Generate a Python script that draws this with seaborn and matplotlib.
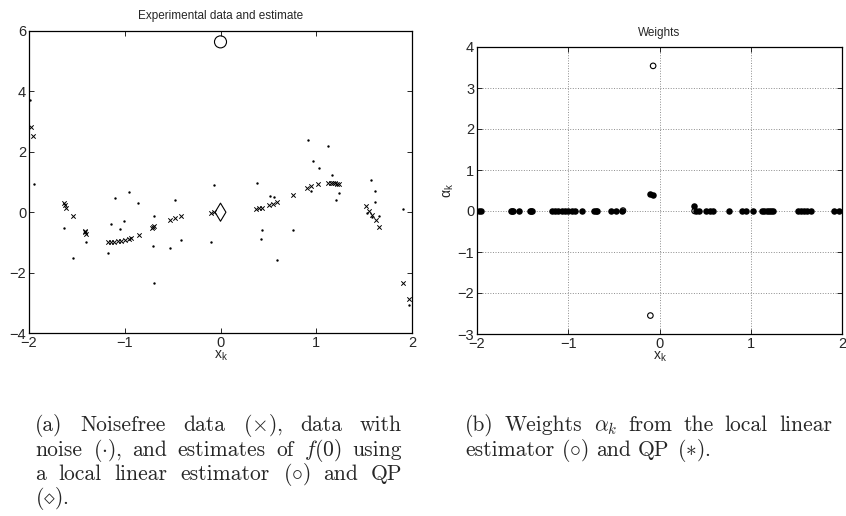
import matplotlib
matplotlib.use("Agg")
import numpy as np
import pandas as pd
import seaborn as sns
import matplotlib.pyplot as plt

# noisefree data (x)
nf_x = [-1.98, -1.96, -1.63, -1.62, -1.61, -1.54, -1.42, -1.41, -1.40,
        -1.18, -1.14, -1.11, -1.07, -1.04, -1.00, -0.96, -0.93, -0.85,
        -0.72, -0.70, -0.69, -0.53, -0.48, -0.41, -0.10, -0.07,
        0.375, 0.40, 0.43, 0.51, 0.55, 0.59, 0.76, 0.90, 0.95, 1.02,
        1.12, 1.15, 1.18, 1.20, 1.22, 1.24, 1.52, 1.55, 1.58, 1.62, 1.66,
        1.91, 1.97]
nf_y = [2.83, 2.53, 0.31, 0.24, 0.14, -0.13, -0.61, -0.67, -0.72,
        -0.99, -0.99, -0.98, -0.96, -0.94, -0.92, -0.90, -0.86, -0.74,
        -0.52, -0.48, -0.45, -0.26, -0.20, -0.13, -0.01, 0.0,
        0.11, 0.13, 0.13, 0.24, 0.27, 0.33, 0.57, 0.80, 0.88, 0.93,
        0.97, 0.97, 0.96, 0.96, 0.95, 0.95, 0.19, 0.03, -0.09, -0.27, -0.49,
        -2.36, -2.86]

# data with noise (.)
noisy_x = [-1.99, -1.95, -1.635, -1.54, -1.40, -1.18, -1.14, -1.10, -1.05,
           -1.01, -0.96, -0.86, -0.71, -0.69, -0.69, -0.53, -0.47, -0.41,
           -0.10, -0.07, 0.38, 0.43, 0.42, 0.52, 0.555, 0.59, 0.76, 0.91,
           0.95, 0.97, 1.03, 1.12, 1.16, 1.21, 1.24, 1.57, 1.61, 1.61, 1.53,
           1.66, 1.58, 1.91, 1.97]
noisy_y = [3.70, 0.93, -0.53, -1.53, -1.00, -1.36, -0.39, 0.48, -0.56,
           -0.28, 0.67, 0.31, -1.11, -0.13, -2.33, -1.19, 0.42, -0.91,
           -0.98, 0.91, 0.96, -0.60, -0.88, 0.52, 0.49, -1.57, -0.60, 2.40,
           0.69, 1.68, 1.46, 2.20, 1.23, 0.41, 0.63, 1.07, 0.69, 0.35, -0.03,
           -0.13, -0.15, 0.09, -3.08]

# estimates of f(0)
est_x = [0.0]
ll_est = [5.64]
qp_est = [0.0]

# weights
qp_w = [0.0] * len(nf_x)
qp_w[nf_x.index(-0.10)] = 0.41
qp_w[nf_x.index(-0.07)] = 0.40
qp_w[nf_x.index(0.375)] = 0.12
ll_x = [-0.40, -0.10, -0.07, 0.385]
ll_w = [0.01, -2.55, 3.54, 0.0]

W, H = 846, 516
sns.set_style("ticks")
plt.rcParams["font.family"] = ["Liberation Sans", "DejaVu Sans"]

fig = plt.figure(figsize=(W / 100, H / 100), dpi=100)
ax1 = fig.add_axes([29 / W, 1 - 333 / H, 383 / W, 302 / H])
ax2 = fig.add_axes([477 / W, 1 - 334 / H, 365 / W, 287 / H])

# (a) data and estimates
sns.scatterplot(x=noisy_x, y=noisy_y, marker="o", s=3, color="k", linewidth=0, ax=ax1)
sns.scatterplot(x=nf_x, y=nf_y, marker="x", s=10, color="k", linewidth=0.7, ax=ax1)
sns.scatterplot(x=est_x, y=ll_est, marker="o", s=75, facecolor="none",
                edgecolor="k", linewidth=0.8, ax=ax1)
sns.scatterplot(x=est_x, y=qp_est, marker="d", s=85, facecolor="none",
                edgecolor="k", linewidth=0.8, ax=ax1)
ax1.set_xlim(-2, 2)
ax1.set_ylim(-4, 6)
ax1.set_xticks([-2, -1, 0, 1, 2])
ax1.set_yticks([-4, -2, 0, 2, 4, 6])
ax1.set_title("Experimental data and estimate", fontsize=8.5, pad=9)

# (b) weights
ax2.grid(True, linestyle=":", color="0.55", linewidth=0.7)
ax2.set_axisbelow(True)
sns.scatterplot(x=ll_x, y=ll_w, marker="o", s=16, facecolor="none",
                edgecolor="k", linewidth=0.8, ax=ax2)
sns.scatterplot(x=nf_x, y=qp_w, marker="o", s=22, color="k", linewidth=0, ax=ax2)
ax2.set_xlim(-2, 2)
ax2.set_ylim(-3, 4)
ax2.set_xticks([-2, -1, 0, 1, 2])
ax2.set_yticks(range(-3, 5))
ax2.set_title("Weights", fontsize=8.5, pad=8)
ax2.set_ylabel(r"$\mathregular{α_k}$", fontsize=10, labelpad=1)

for ax in (ax1, ax2):
    ax.set_xlabel(r"$\mathregular{x_k}$", fontsize=10, labelpad=-1)
    ax.tick_params(direction="in", top=True, right=True, length=3.5,
                   width=0.7, labelsize=10.5, pad=2)
    for sp in ax.spines.values():
        sp.set_linewidth(0.9)
        sp.set_color("k")

# captions, justified like the LaTeX source
cap_a = [r"(a) Noisefree data ($\times$), data with",
         r"noise ($\cdot$), and estimates of $f(0)$ using",
         r"a local linear estimator ($\circ$) and QP",
         r"($\diamond$)."]
cap_b = [r"(b) Weights $\alpha_k$ from the local linear",
         r"estimator ($\circ$) and QP ($\ast$)."]
base = [431, 455.5, 480, 504.5]
renderer = fig.canvas.get_renderer()


def put_caption(lines, x0, x1, size=15.5):
    for i, line in enumerate(lines):
        words = line.split(" ")
        yb = 1 - base[i] / H
        texts = [fig.text(0, yb, w, fontsize=size, family="cmr10",
                          math_fontfamily="cm", va="baseline", ha="left")
                 for w in words]
        widths = [t.get_window_extent(renderer).width for t in texts]
        if i == len(lines) - 1:
            gap = 0.333 * size * 100 / 72
        else:
            gap = (x1 - x0 - sum(widths)) / (len(words) - 1)
        x = x0
        for t, w in zip(texts, widths):
            t.set_x(x / W)
            x += w + gap


put_caption(cap_a, 35, 402)
put_caption(cap_b, 465, 832)

fig.savefig("out.png", dpi=100)
